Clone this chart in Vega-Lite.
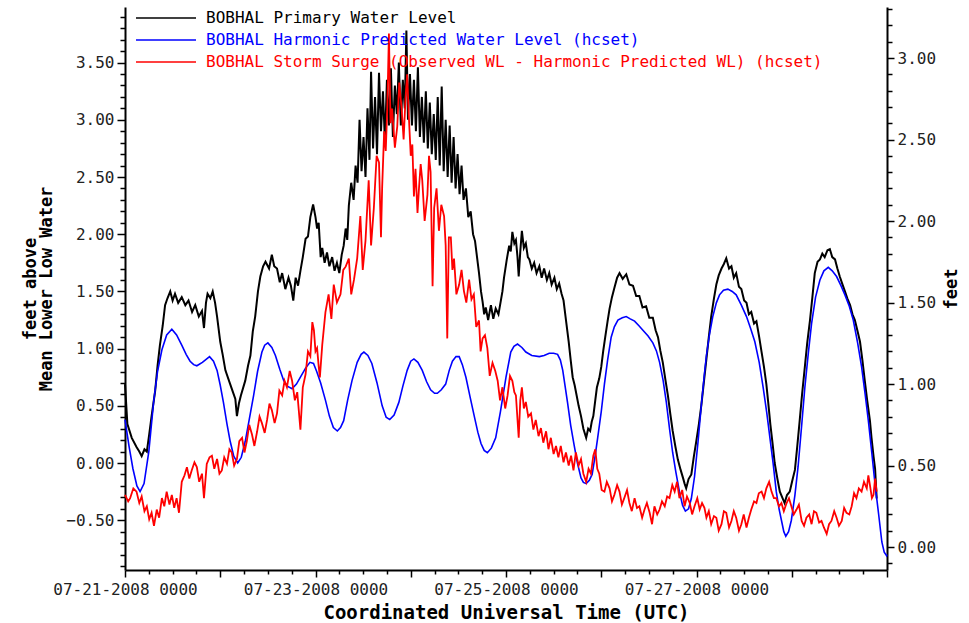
{
"$schema": "https://vega.github.io/schema/vega-lite/v6.json",
"width": 762,
"height": 563,
"autosize": {"type": "none"},
"padding": {"left": 125, "top": 7, "right": 82, "bottom": 53},
"background": "white",
"config": {
  "view": {"stroke": null},
  "font": "DejaVu Sans Mono",
  "axis": {"grid": false, "domainColor": "black", "domainWidth": 2, "tickColor": "black", "tickWidth": 1.5, "labelColor": "#222", "labelFont": "DejaVu Sans Mono", "labelFontSize": 16, "titleFont": "DejaVu Sans Mono", "titleFontWeight": "bold", "titleColor": "black", "labelOverlap": false, "labelBound": false, "labelFlush": false},
  "legend": {"orient": "none", "legendX": 10, "legendY": 3, "padding": 0, "labelFont": "DejaVu Sans Mono", "labelFontSize": 16, "symbolType": "stroke", "symbolSize": 3600, "symbolStrokeWidth": 1.5, "labelOffset": 9, "rowPadding": 6, "clipHeight": 16, "labelLimit": 1000, "titlePadding": 0}
},
"datasets": {
"obs": [
{"h":0,"v":0.69},{"h":0.6,"v":0.34},{"h":1.7,"v":0.22},{"h":2.9,"v":0.14},{"h":3.6,"v":0.10},{"h":4.2,"v":0.06},{"h":4.9,"v":0.12},{"h":5.5,"v":0.10},{"h":6.1,"v":0.25},{"h":6.7,"v":0.41},{"h":7.6,"v":0.63},{"h":8.2,"v":0.85},{"h":8.8,"v":1.03},{"h":9.5,"v":1.20},{"h":10.1,"v":1.38},{"h":10.7,"v":1.44},{"h":11.4,"v":1.50},{"h":12.0,"v":1.42},{"h":12.6,"v":1.48},{"h":13.4,"v":1.40},{"h":14.3,"v":1.45},{"h":15.2,"v":1.38},{"h":16.0,"v":1.42},{"h":16.9,"v":1.32},{"h":17.7,"v":1.38},{"h":18.6,"v":1.28},{"h":19.4,"v":1.33},{"h":19.9,"v":1.18},{"h":20.4,"v":1.40},{"h":20.8,"v":1.48},{"h":21.5,"v":1.44},{"h":22.1,"v":1.50},{"h":22.7,"v":1.40},{"h":23.2,"v":1.28},{"h":24.0,"v":1.06},{"h":24.6,"v":0.95},{"h":25.3,"v":0.81},{"h":26.5,"v":0.69},{"h":27.2,"v":0.62},{"h":27.8,"v":0.56},{"h":28.2,"v":0.41},{"h":28.7,"v":0.52},{"h":29.2,"v":0.59},{"h":30.3,"v":0.72},{"h":31.0,"v":0.85},{"h":31.6,"v":0.94},{"h":32.2,"v":1.15},{"h":32.8,"v":1.28},{"h":33.5,"v":1.50},{"h":34.1,"v":1.63},{"h":34.8,"v":1.72},{"h":35.4,"v":1.76},{"h":36.3,"v":1.70},{"h":37.0,"v":1.82},{"h":37.6,"v":1.72},{"h":38.3,"v":1.70},{"h":39.0,"v":1.58},{"h":39.6,"v":1.66},{"h":40.4,"v":1.52},{"h":41.2,"v":1.62},{"h":41.8,"v":1.55},{"h":42.4,"v":1.42},{"h":43.0,"v":1.62},{"h":43.6,"v":1.55},{"h":44.2,"v":1.68},{"h":44.8,"v":1.80},{"h":45.5,"v":1.96},{"h":46.1,"v":1.98},{"h":46.7,"v":2.15},{"h":47.4,"v":2.26},{"h":48.0,"v":2.15},{"h":48.4,"v":2.05},{"h":48.8,"v":2.10},{"h":49.3,"v":1.80},{"h":49.7,"v":1.88},{"h":50.3,"v":1.75},{"h":50.9,"v":1.84},{"h":51.5,"v":1.72},{"h":52.2,"v":1.80},{"h":52.8,"v":1.68},{"h":53.4,"v":1.75},{"h":54.0,"v":1.66},{"h":54.6,"v":1.82},{"h":55.1,"v":1.90},{"h":55.6,"v":2.05},{"h":56.0,"v":1.95},{"h":56.4,"v":2.25},{"h":57.0,"v":2.45},{"h":57.6,"v":2.30},{"h":58.1,"v":2.60},{"h":58.6,"v":2.45},{"h":59.1,"v":3.00},{"h":59.6,"v":2.55},{"h":60.1,"v":2.85},{"h":60.6,"v":2.50},{"h":61.1,"v":3.10},{"h":61.6,"v":2.65},{"h":62.0,"v":3.42},{"h":62.5,"v":2.75},{"h":63.0,"v":3.20},{"h":63.5,"v":2.70},{"h":64.0,"v":3.41},{"h":64.5,"v":2.90},{"h":65.0,"v":3.25},{"h":65.5,"v":2.80},{"h":66.0,"v":3.35},{"h":66.5,"v":2.95},{"h":67.0,"v":3.45},{"h":67.5,"v":2.85},{"h":68.0,"v":3.30},{"h":68.5,"v":3.05},{"h":69.0,"v":3.50},{"h":69.5,"v":2.95},{"h":70.0,"v":3.35},{"h":70.5,"v":3.10},{"h":70.9,"v":3.78},{"h":71.3,"v":3.00},{"h":71.8,"v":3.40},{"h":72.3,"v":2.95},{"h":72.8,"v":3.35},{"h":73.3,"v":2.90},{"h":73.8,"v":3.46},{"h":74.3,"v":2.85},{"h":74.8,"v":3.20},{"h":75.3,"v":2.80},{"h":75.8,"v":3.25},{"h":76.3,"v":2.75},{"h":76.8,"v":3.15},{"h":77.3,"v":2.70},{"h":77.8,"v":3.05},{"h":78.3,"v":2.65},{"h":78.8,"v":3.20},{"h":79.3,"v":2.60},{"h":79.8,"v":3.29},{"h":80.3,"v":2.55},{"h":80.8,"v":3.00},{"h":81.3,"v":2.50},{"h":81.8,"v":2.95},{"h":82.3,"v":2.45},{"h":82.8,"v":2.85},{"h":83.3,"v":2.40},{"h":83.8,"v":2.70},{"h":84.3,"v":2.35},{"h":84.8,"v":2.60},{"h":85.3,"v":2.30},{"h":85.9,"v":2.40},{"h":86.5,"v":2.15},{"h":87.1,"v":2.20},{"h":87.7,"v":2.00},{"h":88.2,"v":1.94},{"h":88.7,"v":1.80},{"h":89.2,"v":1.66},{"h":89.7,"v":1.50},{"h":90.1,"v":1.41},{"h":90.5,"v":1.30},{"h":90.9,"v":1.36},{"h":91.5,"v":1.25},{"h":92.2,"v":1.38},{"h":92.8,"v":1.26},{"h":93.4,"v":1.35},{"h":94.1,"v":1.30},{"h":94.7,"v":1.42},{"h":95.1,"v":1.50},{"h":95.5,"v":1.62},{"h":96.2,"v":1.78},{"h":96.8,"v":1.90},{"h":97.2,"v":1.85},{"h":97.6,"v":2.02},{"h":98.1,"v":1.92},{"h":98.5,"v":1.95},{"h":98.9,"v":1.80},{"h":99.2,"v":1.63},{"h":99.6,"v":1.85},{"h":100.0,"v":2.03},{"h":100.5,"v":1.88},{"h":101.0,"v":1.92},{"h":101.5,"v":1.80},{"h":101.9,"v":1.78},{"h":102.5,"v":1.70},{"h":103.1,"v":1.75},{"h":103.7,"v":1.66},{"h":104.4,"v":1.72},{"h":105.0,"v":1.62},{"h":105.6,"v":1.70},{"h":106.3,"v":1.60},{"h":106.9,"v":1.66},{"h":107.5,"v":1.56},{"h":108.2,"v":1.62},{"h":108.8,"v":1.52},{"h":109.4,"v":1.57},{"h":110.0,"v":1.48},{"h":110.5,"v":1.42},{"h":111.0,"v":1.28},{"h":111.8,"v":1.06},{"h":112.3,"v":0.90},{"h":112.8,"v":0.75},{"h":113.3,"v":0.68},{"h":113.8,"v":0.59},{"h":114.3,"v":0.50},{"h":114.9,"v":0.41},{"h":115.5,"v":0.30},{"h":116.2,"v":0.22},{"h":116.7,"v":0.30},{"h":117.2,"v":0.28},{"h":117.6,"v":0.36},{"h":118.0,"v":0.41},{"h":118.5,"v":0.55},{"h":118.9,"v":0.66},{"h":119.5,"v":0.74},{"h":120.0,"v":0.84},{"h":120.5,"v":0.98},{"h":121.0,"v":1.10},{"h":121.6,"v":1.24},{"h":122.1,"v":1.35},{"h":122.7,"v":1.45},{"h":123.3,"v":1.53},{"h":124.0,"v":1.62},{"h":124.6,"v":1.66},{"h":125.4,"v":1.61},{"h":126.3,"v":1.65},{"h":127.1,"v":1.56},{"h":128.0,"v":1.55},{"h":128.8,"v":1.46},{"h":129.6,"v":1.46},{"h":130.4,"v":1.36},{"h":131.3,"v":1.37},{"h":132.1,"v":1.27},{"h":133.0,"v":1.27},{"h":133.7,"v":1.16},{"h":134.3,"v":1.10},{"h":134.9,"v":0.98},{"h":135.5,"v":0.88},{"h":136.2,"v":0.72},{"h":136.8,"v":0.59},{"h":137.4,"v":0.43},{"h":138.0,"v":0.28},{"h":138.7,"v":0.14},{"h":139.3,"v":0.03},{"h":140.0,"v":-0.06},{"h":140.6,"v":-0.13},{"h":141.0,"v":-0.18},{"h":141.4,"v":-0.22},{"h":142.0,"v":-0.14},{"h":142.7,"v":-0.10},{"h":143.3,"v":0.05},{"h":143.9,"v":0.18},{"h":144.6,"v":0.34},{"h":145.2,"v":0.50},{"h":145.9,"v":0.72},{"h":146.5,"v":0.91},{"h":147.1,"v":1.10},{"h":147.7,"v":1.28},{"h":148.4,"v":1.44},{"h":149.0,"v":1.56},{"h":149.6,"v":1.64},{"h":150.3,"v":1.70},{"h":150.9,"v":1.74},{"h":151.5,"v":1.79},{"h":152.2,"v":1.70},{"h":152.8,"v":1.72},{"h":153.4,"v":1.62},{"h":154.0,"v":1.66},{"h":154.7,"v":1.54},{"h":155.3,"v":1.52},{"h":156.0,"v":1.42},{"h":156.6,"v":1.40},{"h":157.2,"v":1.30},{"h":157.8,"v":1.32},{"h":158.5,"v":1.22},{"h":159.1,"v":1.24},{"h":159.8,"v":1.10},{"h":160.4,"v":0.97},{"h":161.0,"v":0.84},{"h":161.6,"v":0.69},{"h":162.1,"v":0.52},{"h":162.6,"v":0.34},{"h":163.2,"v":0.16},{"h":163.7,"v":0.00},{"h":164.4,"v":-0.14},{"h":165.0,"v":-0.25},{"h":165.6,"v":-0.30},{"h":166.2,"v":-0.35},{"h":166.8,"v":-0.28},{"h":167.5,"v":-0.25},{"h":168.1,"v":-0.16},{"h":168.8,"v":-0.06},{"h":169.4,"v":0.15},{"h":170.0,"v":0.37},{"h":170.6,"v":0.60},{"h":171.3,"v":0.84},{"h":171.9,"v":1.05},{"h":172.6,"v":1.25},{"h":173.2,"v":1.45},{"h":173.8,"v":1.66},{"h":174.5,"v":1.76},{"h":175.1,"v":1.78},{"h":175.7,"v":1.83},{"h":176.3,"v":1.80},{"h":177.0,"v":1.86},{"h":177.6,"v":1.87},{"h":178.2,"v":1.80},{"h":178.9,"v":1.78},{"h":179.5,"v":1.70},{"h":180.1,"v":1.63},{"h":180.8,"v":1.56},{"h":181.4,"v":1.50},{"h":182.0,"v":1.44},{"h":182.7,"v":1.38},{"h":183.3,"v":1.30},{"h":183.9,"v":1.25},{"h":184.6,"v":1.15},{"h":185.2,"v":1.06},{"h":185.8,"v":0.90},{"h":186.4,"v":0.72},{"h":187.0,"v":0.55},{"h":187.7,"v":0.37},{"h":188.1,"v":0.22},{"h":188.6,"v":0.06},{"h":189.0,"v":-0.05},{"h":189.4,"v":-0.31}
],
"pred": [
{"h":0,"v":0.38},{"h":1.0,"v":0.15},{"h":2.0,"v":-0.05},{"h":3.0,"v":-0.20},{"h":3.8,"v":-0.25},{"h":4.8,"v":-0.18},{"h":6.0,"v":0.10},{"h":7.2,"v":0.53},{"h":8.2,"v":0.80},{"h":9.3,"v":0.99},{"h":10.5,"v":1.12},{"h":11.8,"v":1.17},{"h":13.0,"v":1.12},{"h":14.3,"v":1.03},{"h":15.4,"v":0.95},{"h":16.4,"v":0.89},{"h":17.3,"v":0.86},{"h":18.1,"v":0.85},{"h":19.5,"v":0.88},{"h":21.3,"v":0.93},{"h":22.3,"v":0.89},{"h":23.2,"v":0.81},{"h":24.0,"v":0.68},{"h":24.8,"v":0.53},{"h":25.7,"v":0.34},{"h":26.5,"v":0.19},{"h":27.4,"v":0.06},{"h":28.4,"v":0.00},{"h":29.3,"v":0.05},{"h":30.3,"v":0.19},{"h":31.3,"v":0.38},{"h":32.4,"v":0.59},{"h":33.4,"v":0.80},{"h":34.5,"v":0.97},{"h":35.2,"v":1.03},{"h":36.0,"v":1.05},{"h":37.0,"v":1.01},{"h":37.9,"v":0.94},{"h":39.0,"v":0.82},{"h":40.0,"v":0.72},{"h":41.0,"v":0.67},{"h":42.1,"v":0.65},{"h":43.2,"v":0.69},{"h":44.2,"v":0.75},{"h":45.5,"v":0.83},{"h":46.6,"v":0.88},{"h":47.5,"v":0.87},{"h":48.3,"v":0.80},{"h":49.3,"v":0.70},{"h":50.5,"v":0.55},{"h":51.5,"v":0.41},{"h":52.5,"v":0.31},{"h":53.5,"v":0.28},{"h":54.3,"v":0.31},{"h":55.1,"v":0.37},{"h":56.1,"v":0.55},{"h":57.2,"v":0.72},{"h":58.5,"v":0.88},{"h":59.5,"v":0.95},{"h":60.2,"v":0.97},{"h":61.2,"v":0.94},{"h":62.2,"v":0.87},{"h":63.5,"v":0.70},{"h":64.8,"v":0.50},{"h":65.8,"v":0.40},{"h":66.7,"v":0.38},{"h":67.8,"v":0.42},{"h":69.0,"v":0.53},{"h":70.0,"v":0.67},{"h":71.1,"v":0.81},{"h":72.0,"v":0.89},{"h":72.8,"v":0.91},{"h":73.8,"v":0.88},{"h":74.9,"v":0.81},{"h":76.0,"v":0.71},{"h":77.0,"v":0.64},{"h":78.0,"v":0.61},{"h":78.7,"v":0.61},{"h":79.7,"v":0.64},{"h":80.8,"v":0.69},{"h":81.7,"v":0.81},{"h":82.5,"v":0.89},{"h":83.4,"v":0.93},{"h":84.2,"v":0.93},{"h":85.0,"v":0.86},{"h":85.9,"v":0.75},{"h":87.0,"v":0.57},{"h":88.0,"v":0.41},{"h":88.9,"v":0.27},{"h":89.7,"v":0.17},{"h":90.5,"v":0.11},{"h":91.3,"v":0.09},{"h":92.3,"v":0.13},{"h":93.4,"v":0.22},{"h":94.6,"v":0.45},{"h":96.0,"v":0.75},{"h":97.2,"v":0.97},{"h":98.0,"v":1.02},{"h":98.9,"v":1.04},{"h":100.0,"v":1.01},{"h":101.0,"v":0.97},{"h":102.5,"v":0.94},{"h":104.4,"v":0.93},{"h":105.6,"v":0.94},{"h":106.9,"v":0.96},{"h":108.0,"v":0.96},{"h":109.0,"v":0.95},{"h":109.7,"v":0.90},{"h":110.3,"v":0.81},{"h":111.5,"v":0.53},{"h":112.3,"v":0.33},{"h":113.2,"v":0.15},{"h":114.0,"v":0.00},{"h":114.9,"v":-0.13},{"h":115.5,"v":-0.17},{"h":116.2,"v":-0.18},{"h":117.0,"v":-0.15},{"h":117.7,"v":-0.10},{"h":118.4,"v":0.05},{"h":119.1,"v":0.22},{"h":120.0,"v":0.45},{"h":120.8,"v":0.69},{"h":121.6,"v":0.90},{"h":122.5,"v":1.10},{"h":123.3,"v":1.19},{"h":124.2,"v":1.25},{"h":125.3,"v":1.27},{"h":126.3,"v":1.28},{"h":127.3,"v":1.26},{"h":128.4,"v":1.24},{"h":129.5,"v":1.20},{"h":130.5,"v":1.16},{"h":131.8,"v":1.11},{"h":133.0,"v":1.05},{"h":133.9,"v":0.98},{"h":134.7,"v":0.88},{"h":135.6,"v":0.72},{"h":136.4,"v":0.53},{"h":137.2,"v":0.30},{"h":138.0,"v":0.09},{"h":138.8,"v":-0.08},{"h":139.7,"v":-0.25},{"h":140.5,"v":-0.37},{"h":141.2,"v":-0.42},{"h":142.0,"v":-0.40},{"h":142.7,"v":-0.31},{"h":143.5,"v":-0.12},{"h":144.4,"v":0.19},{"h":145.2,"v":0.50},{"h":146.0,"v":0.78},{"h":146.5,"v":0.94},{"h":147.3,"v":1.13},{"h":148.1,"v":1.28},{"h":149.0,"v":1.40},{"h":149.8,"v":1.47},{"h":150.8,"v":1.51},{"h":151.9,"v":1.52},{"h":153.0,"v":1.50},{"h":154.0,"v":1.47},{"h":155.3,"v":1.38},{"h":156.6,"v":1.28},{"h":157.7,"v":1.17},{"h":158.7,"v":1.06},{"h":159.8,"v":0.88},{"h":160.8,"v":0.66},{"h":161.7,"v":0.44},{"h":162.5,"v":0.22},{"h":163.3,"v":0.00},{"h":164.1,"v":-0.25},{"h":164.8,"v":-0.40},{"h":165.4,"v":-0.50},{"h":166.0,"v":-0.60},{"h":166.5,"v":-0.64},{"h":167.2,"v":-0.60},{"h":167.9,"v":-0.50},{"h":168.8,"v":-0.28},{"h":169.6,"v":-0.03},{"h":170.5,"v":0.33},{"h":171.3,"v":0.66},{"h":172.2,"v":0.97},{"h":173.0,"v":1.22},{"h":174.0,"v":1.45},{"h":175.1,"v":1.60},{"h":176.1,"v":1.68},{"h":177.2,"v":1.71},{"h":178.2,"v":1.68},{"h":179.3,"v":1.63},{"h":180.4,"v":1.55},{"h":181.4,"v":1.47},{"h":182.5,"v":1.37},{"h":183.5,"v":1.25},{"h":184.6,"v":1.05},{"h":185.6,"v":0.84},{"h":186.5,"v":0.60},{"h":187.3,"v":0.37},{"h":188.2,"v":0.08},{"h":189.0,"v":-0.19},{"h":189.9,"v":-0.45},{"h":190.7,"v":-0.69},{"h":191.3,"v":-0.78},{"h":191.9,"v":-0.81},{"h":192.0,"v":-0.80}
],
"surge": [
{"h":0,"v":0.32},{"h":0.8,"v":0.28},{"h":1.3,"v":0.30},{"h":2.1,"v":0.36},{"h":2.9,"v":0.34},{"h":3.6,"v":0.27},{"h":4.2,"v":0.31},{"h":4.9,"v":0.22},{"h":5.5,"v":0.25},{"h":6.1,"v":0.17},{"h":6.7,"v":0.21},{"h":7.3,"v":0.13},{"h":8.0,"v":0.23},{"h":8.6,"v":0.18},{"h":9.3,"v":0.30},{"h":9.9,"v":0.25},{"h":10.5,"v":0.34},{"h":11.2,"v":0.26},{"h":11.8,"v":0.32},{"h":12.4,"v":0.24},{"h":13.0,"v":0.30},{"h":13.6,"v":0.21},{"h":14.3,"v":0.40},{"h":15.0,"v":0.44},{"h":15.6,"v":0.49},{"h":16.2,"v":0.42},{"h":16.8,"v":0.47},{"h":17.5,"v":0.52},{"h":18.1,"v":0.49},{"h":18.7,"v":0.40},{"h":19.4,"v":0.45},{"h":19.9,"v":0.30},{"h":20.6,"v":0.51},{"h":21.3,"v":0.55},{"h":21.9,"v":0.56},{"h":22.5,"v":0.48},{"h":23.2,"v":0.54},{"h":23.8,"v":0.45},{"h":24.4,"v":0.47},{"h":25.0,"v":0.55},{"h":25.7,"v":0.51},{"h":26.3,"v":0.60},{"h":26.9,"v":0.58},{"h":27.5,"v":0.50},{"h":28.2,"v":0.54},{"h":28.8,"v":0.65},{"h":29.5,"v":0.67},{"h":30.1,"v":0.58},{"h":30.7,"v":0.65},{"h":31.3,"v":0.75},{"h":32.0,"v":0.69},{"h":32.6,"v":0.62},{"h":33.3,"v":0.71},{"h":33.9,"v":0.80},{"h":34.5,"v":0.76},{"h":35.2,"v":0.70},{"h":35.8,"v":0.78},{"h":36.4,"v":0.88},{"h":37.0,"v":0.84},{"h":37.7,"v":0.76},{"h":38.3,"v":0.82},{"h":38.9,"v":0.96},{"h":39.6,"v":0.93},{"h":40.2,"v":1.02},{"h":40.8,"v":0.98},{"h":41.5,"v":1.08},{"h":42.1,"v":1.02},{"h":42.8,"v":0.90},{"h":43.4,"v":0.95},{"h":44.2,"v":0.72},{"h":44.8,"v":0.98},{"h":45.5,"v":1.06},{"h":46.1,"v":1.20},{"h":46.7,"v":1.17},{"h":47.2,"v":1.38},{"h":47.6,"v":1.33},{"h":48.0,"v":1.20},{"h":48.4,"v":1.22},{"h":48.8,"v":1.11},{"h":49.1,"v":1.04},{"h":49.7,"v":1.24},{"h":50.5,"v":1.44},{"h":51.3,"v":1.55},{"h":52.0,"v":1.40},{"h":52.6,"v":1.61},{"h":53.4,"v":1.50},{"h":54.3,"v":1.55},{"h":55.0,"v":1.70},{"h":55.6,"v":1.72},{"h":56.4,"v":1.77},{"h":57.0,"v":1.55},{"h":57.7,"v":1.64},{"h":58.5,"v":1.77},{"h":59.3,"v":2.03},{"h":59.9,"v":1.70},{"h":60.6,"v":1.88},{"h":61.4,"v":2.25},{"h":62.0,"v":1.85},{"h":62.7,"v":2.08},{"h":63.4,"v":2.40},{"h":64.0,"v":2.36},{"h":64.5,"v":1.90},{"h":64.8,"v":2.21},{"h":65.3,"v":2.55},{"h":65.7,"v":2.43},{"h":66.1,"v":2.70},{"h":66.5,"v":3.15},{"h":66.9,"v":2.60},{"h":67.3,"v":2.69},{"h":68.0,"v":2.45},{"h":68.6,"v":2.58},{"h":69.1,"v":2.85},{"h":69.7,"v":2.69},{"h":70.2,"v":2.50},{"h":70.7,"v":2.76},{"h":71.1,"v":2.90},{"h":71.5,"v":2.65},{"h":72.0,"v":2.40},{"h":72.4,"v":2.47},{"h":72.8,"v":2.15},{"h":73.2,"v":2.32},{"h":73.7,"v":2.05},{"h":74.1,"v":2.21},{"h":74.5,"v":2.35},{"h":74.9,"v":2.25},{"h":75.5,"v":2.00},{"h":76.2,"v":2.16},{"h":76.6,"v":2.40},{"h":77.0,"v":2.30},{"h":77.5,"v":1.60},{"h":77.9,"v":2.08},{"h":78.5,"v":2.20},{"h":79.1,"v":1.94},{"h":79.7,"v":2.10},{"h":80.4,"v":2.03},{"h":80.8,"v":1.85},{"h":81.2,"v":1.28},{"h":81.6,"v":1.90},{"h":82.1,"v":1.90},{"h":82.5,"v":1.70},{"h":82.9,"v":1.77},{"h":83.5,"v":1.55},{"h":84.2,"v":1.61},{"h":84.8,"v":1.70},{"h":85.4,"v":1.57},{"h":86.0,"v":1.50},{"h":86.7,"v":1.64},{"h":87.3,"v":1.52},{"h":87.9,"v":1.55},{"h":88.5,"v":1.35},{"h":89.2,"v":1.39},{"h":89.6,"v":1.20},{"h":90.1,"v":1.28},{"h":90.7,"v":1.30},{"h":91.3,"v":1.22},{"h":91.9,"v":1.05},{"h":92.6,"v":1.13},{"h":93.3,"v":1.08},{"h":93.9,"v":1.02},{"h":94.5,"v":0.90},{"h":95.1,"v":0.98},{"h":95.8,"v":0.85},{"h":96.4,"v":0.93},{"h":97.0,"v":1.05},{"h":97.6,"v":1.02},{"h":98.1,"v":0.95},{"h":98.5,"v":0.93},{"h":99.2,"v":0.67},{"h":99.6,"v":0.90},{"h":100.0,"v":0.98},{"h":100.5,"v":0.85},{"h":101.0,"v":0.89},{"h":101.6,"v":0.80},{"h":102.3,"v":0.82},{"h":102.9,"v":0.72},{"h":103.5,"v":0.78},{"h":104.2,"v":0.68},{"h":104.8,"v":0.73},{"h":105.4,"v":0.64},{"h":106.1,"v":0.71},{"h":106.7,"v":0.60},{"h":107.3,"v":0.67},{"h":108.0,"v":0.57},{"h":108.6,"v":0.62},{"h":109.2,"v":0.55},{"h":109.8,"v":0.62},{"h":110.5,"v":0.52},{"h":111.1,"v":0.58},{"h":111.8,"v":0.50},{"h":112.4,"v":0.56},{"h":113.0,"v":0.47},{"h":113.6,"v":0.58},{"h":114.3,"v":0.50},{"h":114.9,"v":0.54},{"h":115.5,"v":0.45},{"h":116.2,"v":0.40},{"h":116.8,"v":0.48},{"h":117.4,"v":0.45},{"h":118.0,"v":0.56},{"h":118.5,"v":0.60},{"h":119.0,"v":0.48},{"h":119.5,"v":0.45},{"h":120.1,"v":0.35},{"h":120.8,"v":0.34},{"h":121.4,"v":0.40},{"h":122.1,"v":0.36},{"h":122.7,"v":0.28},{"h":123.3,"v":0.32},{"h":124.0,"v":0.38},{"h":124.6,"v":0.34},{"h":125.2,"v":0.26},{"h":125.8,"v":0.30},{"h":126.5,"v":0.35},{"h":127.1,"v":0.27},{"h":127.7,"v":0.22},{"h":128.4,"v":0.30},{"h":129.0,"v":0.24},{"h":129.6,"v":0.25},{"h":130.3,"v":0.18},{"h":130.9,"v":0.23},{"h":131.5,"v":0.27},{"h":132.2,"v":0.21},{"h":132.8,"v":0.14},{"h":133.4,"v":0.25},{"h":134.1,"v":0.20},{"h":134.7,"v":0.23},{"h":135.3,"v":0.28},{"h":136.0,"v":0.25},{"h":136.6,"v":0.31},{"h":137.2,"v":0.30},{"h":137.9,"v":0.38},{"h":138.5,"v":0.34},{"h":139.1,"v":0.40},{"h":139.7,"v":0.30},{"h":140.4,"v":0.35},{"h":141.0,"v":0.25},{"h":141.6,"v":0.31},{"h":142.3,"v":0.27},{"h":142.9,"v":0.20},{"h":143.5,"v":0.25},{"h":144.2,"v":0.30},{"h":144.8,"v":0.23},{"h":145.4,"v":0.27},{"h":146.0,"v":0.24},{"h":146.5,"v":0.18},{"h":147.1,"v":0.22},{"h":147.7,"v":0.14},{"h":148.4,"v":0.19},{"h":149.0,"v":0.18},{"h":149.6,"v":0.10},{"h":150.3,"v":0.14},{"h":150.9,"v":0.22},{"h":151.5,"v":0.21},{"h":152.2,"v":0.12},{"h":152.8,"v":0.16},{"h":153.4,"v":0.22},{"h":154.0,"v":0.18},{"h":154.7,"v":0.10},{"h":155.3,"v":0.14},{"h":155.9,"v":0.20},{"h":156.6,"v":0.12},{"h":157.2,"v":0.18},{"h":157.8,"v":0.23},{"h":158.5,"v":0.28},{"h":159.1,"v":0.27},{"h":159.7,"v":0.33},{"h":160.4,"v":0.34},{"h":161.0,"v":0.30},{"h":161.6,"v":0.36},{"h":162.3,"v":0.40},{"h":162.9,"v":0.34},{"h":163.5,"v":0.30},{"h":164.1,"v":0.30},{"h":164.8,"v":0.25},{"h":165.4,"v":0.27},{"h":166.0,"v":0.22},{"h":166.7,"v":0.27},{"h":167.3,"v":0.30},{"h":167.9,"v":0.25},{"h":168.5,"v":0.20},{"h":169.2,"v":0.23},{"h":169.8,"v":0.26},{"h":170.5,"v":0.16},{"h":171.1,"v":0.13},{"h":171.7,"v":0.18},{"h":172.4,"v":0.20},{"h":173.0,"v":0.14},{"h":173.6,"v":0.22},{"h":174.2,"v":0.21},{"h":174.9,"v":0.15},{"h":175.5,"v":0.16},{"h":176.1,"v":0.12},{"h":176.8,"v":0.08},{"h":177.4,"v":0.14},{"h":178.0,"v":0.16},{"h":178.7,"v":0.22},{"h":179.3,"v":0.18},{"h":179.9,"v":0.13},{"h":180.6,"v":0.16},{"h":181.2,"v":0.24},{"h":181.8,"v":0.21},{"h":182.5,"v":0.20},{"h":183.1,"v":0.25},{"h":183.7,"v":0.33},{"h":184.3,"v":0.30},{"h":184.9,"v":0.36},{"h":185.6,"v":0.34},{"h":186.2,"v":0.40},{"h":186.9,"v":0.36},{"h":187.3,"v":0.44},{"h":187.7,"v":0.38},{"h":188.2,"v":0.30},{"h":188.6,"v":0.32},{"h":189.0,"v":0.42},{"h":189.4,"v":0.34}
]
},
"encoding": {
  "x": {"field": "h", "type": "quantitative", "scale": {"domain": [0, 192], "nice": false, "zero": false},
    "axis": {"title": "Coordinated Universal Time (UTC)", "titleFontSize": 19, "titlePadding": 6,
      "values": [0,6,12,18,24,30,36,42,48,54,60,66,72,78,84,90,96,102,108,114,120,126,132,138,144,150,156,162,168,174,180,186,192],
      "labelExpr": "datum.value % 48 === 0 && datum.value < 192 ? '07-' + (21 + datum.value/24) + '-2008 0000' : ''",
      "tickSize": {"condition": {"test": "datum.value % 24 === 0", "value": 7}, "value": 4},
      "labelPadding": 4}}
},
"layer": [
  {
    "encoding": {
      "y": {"field": "v", "type": "quantitative", "scale": {"domain": [-0.935, 3.986], "nice": false, "zero": false},
        "axis": {"orient": "left", "title": ["feet above", "Mean Lower Low Water"], "titleFontSize": 17, "titleLineHeight": 16, "titlePadding": 10,
          "values": [-0.9,-0.8,-0.7,-0.6,-0.5,-0.4,-0.3,-0.2,-0.1,0,0.1,0.2,0.3,0.4,0.5,0.6,0.7,0.8,0.9,1,1.1,1.2,1.3,1.4,1.5,1.6,1.7,1.8,1.9,2,2.1,2.2,2.3,2.4,2.5,2.6,2.7,2.8,2.9,3,3.1,3.2,3.3,3.4,3.5,3.6,3.7,3.8,3.9],
          "labelExpr": "abs(datum.value*2 - round(datum.value*2)) < 0.001 ? format(datum.value, '.2f') : ''",
          "tickSize": {"condition": {"test": "abs(datum.value*2 - round(datum.value*2)) < 0.001", "value": 8}, "value": 5},
          "labelPadding": 3}}
    },
    "layer": [
      {"data": {"name": "obs"}, "mark": {"type": "line", "strokeWidth": 2},
       "encoding": {"color": {"datum": "BOBHAL Primary Water Level", "type": "nominal",
          "scale": {"domain": ["BOBHAL Primary Water Level", "BOBHAL Harmonic Predicted Water Level (hcset)", "BOBHAL Storm Surge (Observed WL - Harmonic Predicted WL) (hcset)"], "range": ["#000000", "#0000ff", "#ff0000"]},
          "legend": {"title": null, "encoding": {"labels": {"fill": {"condition": [{"test": "datum.index === 1", "value": "#0000ff"}, {"test": "datum.index === 2", "value": "#ff0000"}], "value": "#000000"}}}}}}},
      {"data": {"name": "pred"}, "mark": {"type": "line", "strokeWidth": 1.6},
       "encoding": {"color": {"datum": "BOBHAL Harmonic Predicted Water Level (hcset)", "type": "nominal"}}}
    ]
  },
  {
    "data": {"name": "surge"},
    "mark": {"type": "line", "strokeWidth": 1.8},
    "encoding": {
      "y": {"field": "v", "type": "quantitative", "scale": {"domain": [-0.141, 3.313], "nice": false, "zero": false},
        "axis": {"orient": "right", "title": "feet", "titleFontSize": 17, "titleAngle": 270, "titleBaseline": "top", "titlePadding": 8,
          "values": [-0.1,0,0.1,0.2,0.3,0.4,0.5,0.6,0.7,0.8,0.9,1,1.1,1.2,1.3,1.4,1.5,1.6,1.7,1.8,1.9,2,2.1,2.2,2.3,2.4,2.5,2.6,2.7,2.8,2.9,3,3.1,3.2,3.3],
          "labelExpr": "abs(datum.value*2 - round(datum.value*2)) < 0.001 ? format(datum.value, '.2f') : ''",
          "tickSize": {"condition": {"test": "abs(datum.value*2 - round(datum.value*2)) < 0.001", "value": 7}, "value": 5},
          "labelPadding": 3}},
      "color": {"datum": "BOBHAL Storm Surge (Observed WL - Harmonic Predicted WL) (hcset)", "type": "nominal"}
    }
  }
],
"resolve": {"scale": {"y": "independent"}}
}
